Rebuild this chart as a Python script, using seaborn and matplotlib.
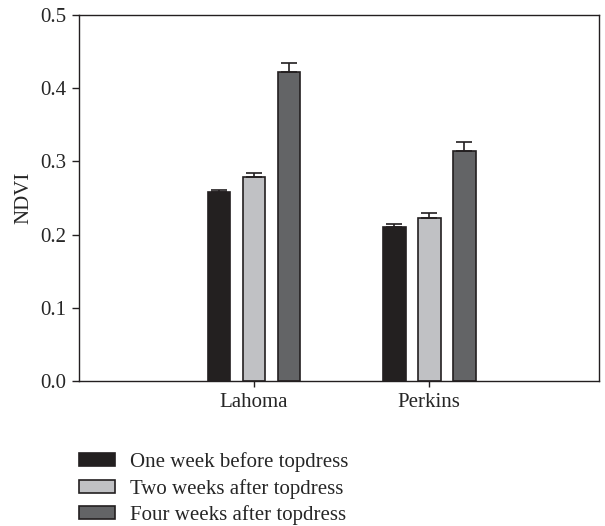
import matplotlib
matplotlib.use("Agg")
import matplotlib.pyplot as plt
import seaborn as sns
import pandas as pd

# data
sites = ["Lahoma", "Perkins"]
stages = ["One week before topdress", "Two weeks after topdress", "Four weeks after topdress"]
ndvi_lahoma = [0.258, 0.279, 0.422]
ndvi_perkins = [0.210, 0.223, 0.314]
err_lahoma = [0.003, 0.005, 0.013]
err_perkins = [0.004, 0.007, 0.013]
colors = ["#231f20", "#c0c1c4", "#636466"]

rows = []
for s, vals, errs in [(sites[0], ndvi_lahoma, err_lahoma), (sites[1], ndvi_perkins, err_perkins)]:
    for st, v, e in zip(stages, vals, errs):
        rows.append({"site": s, "stage": st, "ndvi": v, "err": e})
df = pd.DataFrame(rows)

sns.set_style("ticks")
plt.rcParams["font.family"] = ["Liberation Serif", "DejaVu Serif"]
plt.rcParams["font.size"] = 15

fig = plt.figure(figsize=(6.05, 5.26), dpi=100)
ax = fig.add_axes([0.1306, 0.2757, 0.8594, 0.6958])

sns.barplot(data=df, x="site", y="ndvi", hue="stage", order=sites, hue_order=stages,
            palette=colors, width=0.6, gap=0.35, errorbar=None,
            edgecolor="#231f20", linewidth=1.2, ax=ax)

# upper-only error bars placed on the drawn bars
for i, st in enumerate(stages):
    cont = ax.containers[i]
    sub = df[df["stage"] == st].set_index("site").loc[sites]
    xs = [p.get_x() + p.get_width() / 2 for p in cont.patches]
    ax.errorbar(xs, sub["ndvi"], yerr=[[0] * len(xs), sub["err"]], fmt="none",
                ecolor="#231f20", elinewidth=1.2, capsize=6, capthick=1.2)

ax.set_xlim(-1.0, 1.97)
ax.set_ylim(0, 0.5)
ax.set_yticks([0.0, 0.1, 0.2, 0.3, 0.4, 0.5])
ax.set_yticklabels(["0.0", "0.1", "0.2", "0.3", "0.4", "0.5"])
ax.set_xlabel("")
ax.set_ylabel("NDVI", fontsize=15, labelpad=5)
ax.tick_params(axis="x", length=4, width=1, labelsize=15, pad=5, color="#231f20")
ax.tick_params(axis="y", length=5, width=1, labelsize=15, pad=4, color="#231f20")
for sp in ax.spines.values():
    sp.set_visible(True)
    sp.set_linewidth(1)
    sp.set_color("#231f20")

handles, labels = ax.get_legend_handles_labels()
ax.get_legend().remove()
fig.legend(handles, labels, loc="upper left", bbox_to_anchor=(0.1306, 0.140),
           frameon=False, fontsize=15, handlelength=1.73, handleheight=0.58,
           handletextpad=0.72, labelspacing=0.31, borderpad=0, borderaxespad=0)

fig.savefig("out.png", dpi=100)
